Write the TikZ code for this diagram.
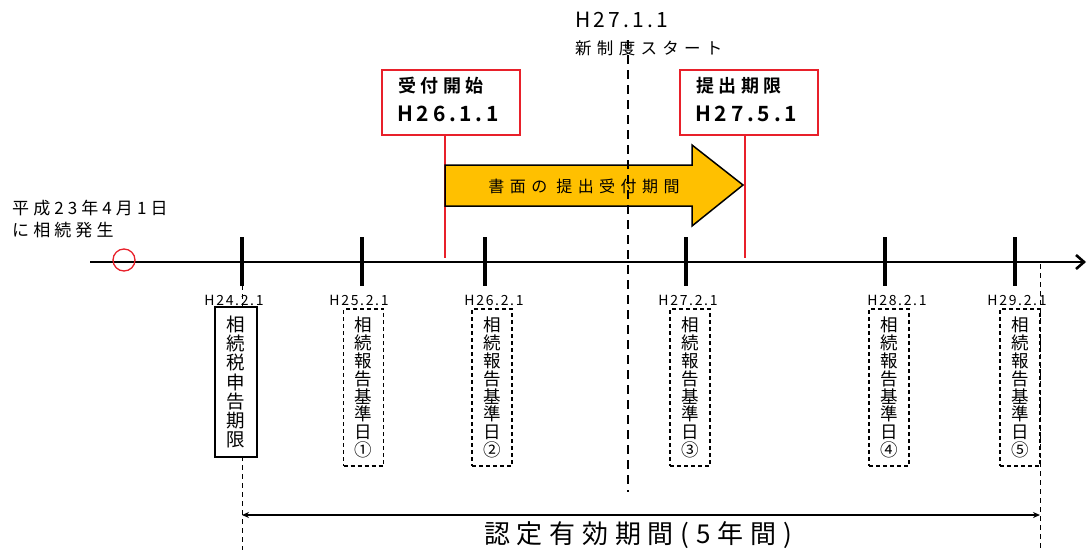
\documentclass[tikz,border=0pt]{standalone}
\usepackage{fontspec}
\setmainfont{Noto Sans CJK JP}
\newfontfamily\lsA{Noto Sans CJK JP}[LetterSpace=24]
\newfontfamily\lsN{Noto Sans CJK JP}[LetterSpace=32]
\newfontfamily\lsH{Noto Sans CJK JP}[LetterSpace=15]
\newfontfamily\lsB{Noto Sans CJK JP}[BoldFont={* Bold},LetterSpace=25]
\newfontfamily\lsBH{Noto Sans CJK JP}[BoldFont={* Bold},LetterSpace=18]
\newfontfamily\lsY{Noto Sans CJK JP}[LetterSpace=34]
\newfontfamily\lsD{Noto Sans CJK JP}[LetterSpace=12]
\newfontfamily\lsV{Noto Sans CJK JP}[LetterSpace=26]
\usetikzlibrary{arrows.meta}
\definecolor{arrowyellow}{HTML}{FFC000}
\definecolor{boxred}{HTML}{E8202A}
\tikzset{
  tick/.style={line width=3.2pt},
  redline/.style={draw=boxred,line width=2.5pt},
  redbox/.style={draw=boxred,line width=2pt,fill=white,minimum width=138pt,minimum height=65pt,inner sep=0pt},
  datelbl/.style={font=\lsD\fontsize{14pt}{15pt}\selectfont,inner sep=0pt},
  vsolid/.style={draw,line width=1.4pt,fill=white,minimum width=42pt,minimum height=150pt,align=center,inner sep=0pt,font=\fontsize{18.5pt}{19.2pt}\selectfont},
  vdash/.style={draw,line width=1.4pt,dash pattern=on 4pt off 3pt,fill=white,minimum width=40pt,minimum height=157pt,align=center,inner sep=0pt,font=\fontsize{17.5pt}{17.9pt}\selectfont},
  thindash/.style={line width=0.8pt,dash pattern=on 5pt off 4pt},
  lbl/.style={anchor=west,inner sep=0pt},
}
\begin{document}
\begin{tikzpicture}[x=1pt,y=-1pt]
\useasboundingbox (0,0) rectangle (1087,550);
% thin dashed lines
\coordinate (d1a) at (242,285); \coordinate (d1b) at (242,550);
\coordinate (d2a) at (1040,264); \coordinate (d2b) at (1040,550);
\draw[thindash] (d1a) -- (d1b);
\draw[thindash] (d2a) -- (d2b);
% red boxes and lines
\coordinate (r1b) at (445,258); \coordinate (r2b) at (745,258);
\node[redbox] (rb1) at (451,102) {};
\node[redbox] (rb2) at (749,102) {};
\draw[redline] (rb1.south -| r1b) -- (r1b);
\draw[redline] (rb2.south -| r2b) -- (r2b);
\node[lbl,font=\lsB\bfseries\fontsize{18pt}{19pt}\selectfont] (rb1t) at (398,86) {受付開始};
\node[lbl,font=\lsBH\bfseries\fontsize{21pt}{22pt}\selectfont] (rb1d) at (397,114) {H26.1.1};
\node[lbl,font=\lsB\bfseries\fontsize{18pt}{19pt}\selectfont] (rb2t) at (696,86) {提出期限};
\node[lbl,font=\lsBH\bfseries\fontsize{21pt}{22pt}\selectfont] (rb2d) at (695,114) {H27.5.1};
% yellow arrow
\draw[fill=arrowyellow,line width=1.5pt,line join=miter] (445,165) -- (692,165) -- (692,145) -- (743,185) -- (692,226) -- (692,206) -- (445,206) -- cycle;
\node[font=\lsY\fontsize{16pt}{17pt}\selectfont,inner sep=0pt] (yat) at (584,186) {書面の 提出受付期間};
% new system dashed line
\coordinate (ns1) at (628,40);
\coordinate (ns2) at (628,492);
\draw[line width=2.2pt,dash pattern=on 9pt off 6pt] (ns1) -- (ns2);
% timeline
\coordinate (tl0) at (90,262);
\coordinate (tl1) at (1086,262);
\draw[line width=2.8pt,-{Straight Barb[length=8pt,width=14pt,line width=2.6pt]}] (tl0) -- (tl1);
% circle
\node[circle,draw=boxred,line width=1.3pt,minimum size=22pt,inner sep=0pt] (circ) at (124,260) {};
% ticks
\foreach \n/\x in {t1/242,t2/362,t3/485,t4/686,t5/885,t6/1015}{
  \coordinate (\n a) at (\x,237); \coordinate (\n b) at (\x,286);
  \draw[tick] (\n a) -- (\n b);
}
% top labels
\node[lbl,font=\lsH\fontsize{21pt}{22pt}\selectfont] (ns) at (575,20) {H27.1.1};
\node[lbl,font=\lsN\fontsize{16.5pt}{17pt}\selectfont] (nst) at (575,48) {新制度スタート};
% left labels
\node[lbl,font=\lsA\fontsize{17pt}{18pt}\selectfont] (lt1) at (12,208) {平成23年4月1日};
\node[lbl,font=\lsA\fontsize{17pt}{18pt}\selectfont] (lt2) at (12,230) {に相続発生};
% date labels
\node[datelbl] (dl1) at (234,300) {H24.2.1};
\node[datelbl] (dl2) at (359,300) {H25.2.1};
\node[datelbl] (dl3) at (494,300) {H26.2.1};
\node[datelbl] (dl4) at (688,300) {H27.2.1};
\node[datelbl] (dl5) at (897,300) {H28.2.1};
\node[datelbl] (dl6) at (1017,300) {H29.2.1};
% vertical boxes
\node[vsolid] (vb1) at (236,382) {相\\続\\税\\申\\告\\期\\限};
\node[vdash] (vb2) at (363.5,387.5) {相\\続\\報\\告\\基\\準\\日\\①};
\node[vdash] (vb3) at (492,387.5) {相\\続\\報\\告\\基\\準\\日\\②};
\node[vdash] (vb4) at (690,387.5) {相\\続\\報\\告\\基\\準\\日\\③};
\node[vdash] (vb5) at (889,387.5) {相\\続\\報\\告\\基\\準\\日\\④};
\node[vdash] (vb6) at (1020,387.5) {相\\続\\報\\告\\基\\準\\日\\⑤};
% validity period
\coordinate (vp1) at (242,515); \coordinate (vp2) at (1040,515);
\draw[line width=1.2pt,{Stealth[length=7pt,width=6pt]}-{Stealth[length=7pt,width=6pt]}] (vp1) -- (vp2);
\node[font=\lsV\fontsize{26pt}{27pt}\selectfont,inner sep=0pt] (vpt) at (638,535) {認定有効期間(5年間)};
\end{tikzpicture}
\end{document}
